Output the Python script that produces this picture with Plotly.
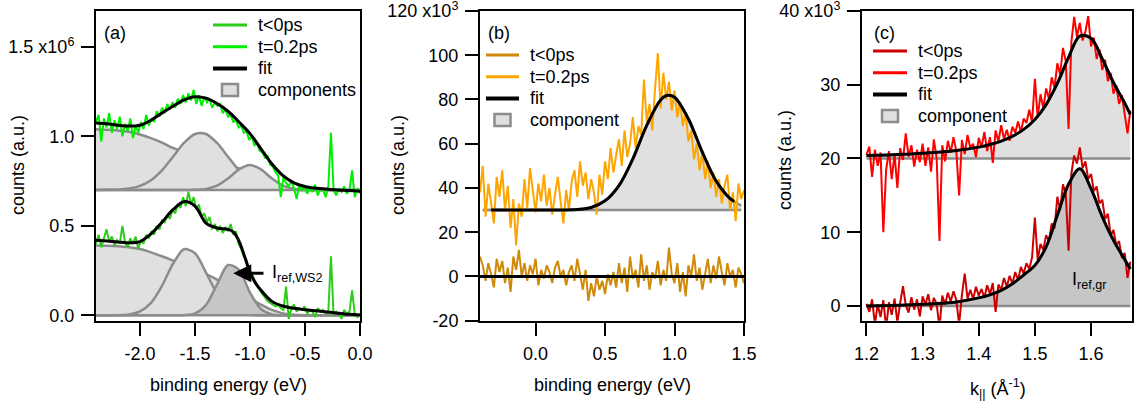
import plotly.graph_objects as go

FONT = "Liberation Sans, Arial, Helvetica, sans-serif"
W, H = 1135, 412
GREY = "#8C8C8C"
FILL_L = "#E0E0E0"
FILL_D = "#C6C6C6"

# ---------------- panel (a): binding energy (eV), counts in 1e6 ----------------
a_x0, a_dx, a_n = -2.4, 0.024, 101
a_data_x = [round(a_x0 + a_dx * i, 4) for i in range(a_n)]
a_t02 = [1.08, 1.12, 0.97, 1.10, 1.05, 1.13, 1.02, 1.09, 1.04, 1.11,
         1.00, 1.07, 1.03, 1.10, 0.99, 1.06, 1.02, 1.08, 1.04, 1.12,
         1.06, 1.10, 1.08, 1.14, 1.11, 1.16, 1.13, 1.18, 1.15, 1.19,
         1.16, 1.21, 1.18, 1.23, 1.19, 1.24, 1.20, 1.26, 1.18, 1.23,
         1.17, 1.22, 1.19, 1.21, 1.16, 1.19, 1.17, 1.18, 1.13, 1.15,
         1.11, 1.12, 1.08, 1.09, 1.05, 1.06, 1.02, 1.03, 0.98, 1.00,
         0.95, 0.96, 0.92, 0.91, 0.88, 0.89, 0.84, 0.83, 0.80, 0.78,
         0.66, 0.77, 0.74, 0.72, 0.75, 0.71, 0.65, 0.73, 0.70, 0.72,
         0.68, 0.71, 0.69, 0.73, 0.67, 0.71, 0.70, 0.66, 0.72, 1.02,
         0.70, 0.67, 0.71, 0.69, 0.72, 0.68, 0.70, 0.81, 0.66, 0.71, 0.68]
a_tneg = [0.40, 0.45, 0.38, 0.43, 0.48, 0.41, 0.44, 0.39, 0.42, 0.40,
          0.50, 0.41, 0.38, 0.43, 0.40, 0.44, 0.37, 0.42, 0.40, 0.45,
          0.43, 0.47, 0.45, 0.50, 0.48, 0.53, 0.52, 0.56, 0.54, 0.59,
          0.57, 0.62, 0.60, 0.66, 0.61, 0.69, 0.62, 0.66, 0.59, 0.62,
          0.55, 0.57, 0.52, 0.55, 0.48, 0.51, 0.47, 0.50, 0.46, 0.49,
          0.47, 0.51, 0.45, 0.47, 0.40, 0.37, 0.33, 0.31, 0.26, 0.23,
          0.20, 0.17, 0.14, 0.12, 0.10, 0.08, 0.07, 0.06, 0.05, 0.06,
          0.04, 0.03, 0.16, -0.02, 0.04, 0.06, 0.02, 0.04, 0.03, 0.05,
          0.01, 0.03, 0.02, -0.01, 0.04, 0.02, 0.03, 0.01, 0.02, 0.33,
          0.00, 0.02, 0.01, -0.02, 0.03, 0.01, 0.02, 0.14, 0.01, -0.01, 0.01]
a_comp_x = [-2.4, -2.3, -2.2, -2.1, -2.0, -1.9, -1.8, -1.7, -1.6, -1.5, -1.4, -1.3, -1.2,
            -1.1, -1.0, -0.9, -0.8, -0.7, -0.6, -0.5, -0.4, -0.3, -0.2, -0.1, 0.0]
a_up_base = 0.70
a_up_bg = [1.04, 1.037, 1.033, 1.025, 1.01, 0.99, 0.965, 0.935, 0.91, 0.89, 0.875, 0.86, 0.84,
           0.82, 0.80, 0.775, 0.745, 0.72, 0.705, 0.70, 0.70, 0.70, 0.70, 0.70, 0.70]
a_up_g1 = [0.70, 0.701, 0.702, 0.708, 0.723, 0.755, 0.810, 0.886, 0.963, 1.013, 1.013, 0.963, 0.886,
           0.810, 0.755, 0.723, 0.708, 0.702, 0.701, 0.70, 0.70, 0.70, 0.70, 0.70, 0.70]
a_up_g2 = [0.70, 0.70, 0.70, 0.70, 0.70, 0.70, 0.70, 0.70, 0.70, 0.701, 0.706, 0.724, 0.764,
           0.815, 0.84, 0.815, 0.764, 0.724, 0.706, 0.701, 0.70, 0.70, 0.70, 0.70, 0.70]
a_lo_base = 0.0
a_lo_bg = [0.39, 0.389, 0.386, 0.38, 0.37, 0.352, 0.33, 0.306, 0.28, 0.255, 0.23, 0.20, 0.165,
           0.13, 0.095, 0.06, 0.03, 0.011, 0.003, 0.0, 0.0, 0.0, 0.0, 0.0, 0.0]
a_lo_g1 = [0.0, 0.0, 0.001, 0.005, 0.022, 0.070, 0.165, 0.288, 0.369, 0.347, 0.239, 0.122, 0.045,
           0.012, 0.003, 0.0, 0.0, 0.0, 0.0, 0.0, 0.0, 0.0, 0.0, 0.0, 0.0]
a_lo_ref = [0.0, 0.0, 0.0, 0.0, 0.0, 0.0, 0.0, 0.0, 0.001, 0.011, 0.058, 0.172, 0.281,
            0.254, 0.127, 0.035, 0.005, 0.0, 0.0, 0.0, 0.0, 0.0, 0.0, 0.0, 0.0]
a_fit_up_x = a_comp_x
a_fit_up = [1.075, 1.07, 1.062, 1.057, 1.062, 1.09, 1.13, 1.168, 1.203, 1.221, 1.213, 1.183, 1.14,
            1.08, 1.015, 0.93, 0.845, 0.78, 0.74, 0.72, 0.71, 0.705, 0.70, 0.697, 0.693]
a_fit_lo_x = [-2.4, -2.3, -2.2, -2.1, -2.0, -1.9, -1.8, -1.7, -1.6, -1.5, -1.4, -1.3, -1.2, -1.15,
              -1.1, -1.05, -1.0, -0.95, -0.9, -0.8, -0.7, -0.6, -0.5, -0.4, -0.3, -0.2, -0.1, 0.0]
a_fit_lo = [0.42, 0.415, 0.41, 0.405, 0.412, 0.455, 0.52, 0.59, 0.635, 0.61, 0.515, 0.488, 0.48, 0.465,
            0.415, 0.33, 0.24, 0.18, 0.14, 0.078, 0.052, 0.039, 0.031, 0.025, 0.019, 0.012, 0.006, 0.002]
a_xticks = [-2.0, -1.5, -1.0, -0.5, 0.0]
a_xtext = ["-2.0", "-1.5", "-1.0", "-0.5", "0.0"]
a_yticks = [0.0, 0.5, 1.0, 1.5]
a_ytext = ["0.0", "0.5", "1.0", "1.5 x10<sup>6</sup>"]

# ---------------- panel (b): binding energy (eV), counts in 1e3 ----------------
b_x0, b_dx, b_n = -0.40, 0.02, 96
b_data_x = [round(b_x0 + b_dx * i, 4) for i in range(b_n)]
b_t02 = [38, 50, 27, 42, 33, 24, 45, 36, 48, 30, 41, 22, 35, 14, 33, 27, 44, 31, 49, 38,
         29, 42, 34, 46, 32, 40, 28, 37, 45, 34, 24, 39, 30, 43, 48, 36, 52, 41, 47, 35,
         44, 38, 28, 46, 37, 52, 44, 58, 47, 55, 62, 50, 66, 54, 60, 72, 58, 68, 64, 89,
         70, 78, 66, 85, 101, 76, 92, 80, 88, 75, 84, 72, 79, 68, 74, 61, 66, 53, 60, 48,
         56, 44, 52, 40, 47, 36, 44, 33, 41, 46, 30, 38, 25, 42, 35, 39]
b_tneg = [9, 5, -2, 6, 1, -5, 8, 2, 7, -3, 4, -7, 9, 3, 12, 0, 6, -2, 5, 1,
          8, -4, 3, -1, 5, 2, -3, 4, 7, 0, 3, -4, 2, 5, -2, 8, 1, -6, 3, -11,
          -3, -9, 0, -6, -2, -8, 1, -4, 2, -5, 6, -3, 4, -7, 9, -1, 3, -5, 10, -2,
          5, -6, 2, -1, 7, -4, 3, -2, 13, 1, -3, 6, -7, 2, -9, 5, 0, 10, -2, 4,
          -6, 1, 8, -3, 5, -1, 9, 2, -4, 6, 0, 3, -5, 4, 1, -3]
b_base = 30.0
b_comp_x = [-0.38, 0.0, 0.2, 0.3, 0.4, 0.5, 0.6, 0.7, 0.8, 0.9, 0.95, 1.0, 1.1, 1.2, 1.3, 1.4, 1.48]
b_comp = [30.0, 30.0, 30.05, 30.3, 31.2, 34.2, 41.1, 53.2, 68.3, 79.8, 81.9, 81.0, 71.2, 56.2, 43.1, 35.2, 32.0]
b_fit_x = [-0.32, 0.0, 0.2, 0.3, 0.4, 0.5, 0.6, 0.7, 0.8, 0.9, 0.95, 1.0, 1.1, 1.2, 1.3, 1.4, 1.43]
b_fit = [30.0, 30.0, 30.05, 30.3, 31.2, 34.2, 41.1, 53.2, 68.3, 79.8, 81.9, 81.0, 71.2, 56.2, 43.1, 35.2, 33.9]
b_fit0_x = [-0.4, 1.5]
b_fit0 = [0.0, 0.0]
b_xticks = [0.0, 0.5, 1.0, 1.5]
b_xtext = ["0.0", "0.5", "1.0", "1.5"]
b_yticks = [-20, 0, 20, 40, 60, 80, 100, 120]
b_ytext = ["-20", "0", "20", "40", "60", "80", "100", "120 x10<sup>3</sup>"]

# ---------------- panel (c): k_parallel (1/A), counts in 1e3 ----------------
c_x0, c_dx, c_n = 1.200, 0.005, 95
c_data_x = [round(c_x0 + c_dx * i, 4) for i in range(c_n)]
c_t02 = [20.5, 21.6, 17.5, 21.2, 19.0, 20.8, 10.0, 18.5, 21.0, 17.2,
         20.6, 16.0, 21.4, 19.8, 23.4, 20.2, 21.8, 18.9, 21.2, 19.5,
         22.0, 19.0, 21.5, 18.2, 22.6, 20.0, 8.8, 21.8, 19.6, 22.4,
         20.8, 22.9, 21.0, 15.0, 22.5, 20.6, 23.2, 21.4, 22.0, 20.2,
         22.8, 21.5, 23.6, 21.0, 22.9, 19.4, 23.8, 22.3, 24.5, 22.6,
         23.9, 22.4, 24.3, 23.5, 25.0, 23.6, 25.4, 24.8, 26.6, 24.9,
         30.8, 25.5, 28.7, 26.8, 29.5, 28.1, 31.0, 29.6, 32.9, 31.4,
         35.0, 33.2, 24.0, 35.8, 39.2, 36.5, 38.4, 36.0, 37.2, 39.3,
         35.2, 36.4, 33.5, 34.8, 32.0, 33.4, 30.5, 31.6, 28.8, 29.9,
         27.4, 28.6, 26.0, 23.4, 26.5]
c_tneg = [0.3, -0.8, 0.9, -2.5, 0.2, -1.5, 0.8, -3.0, 0.5, -1.2,
          1.0, -2.2, 0.4, 2.7, 0.1, -0.9, 1.2, -0.5, 0.9, -1.4,
          1.3, 0.2, 1.6, -0.6, 1.1, 0.3, -3.0, 1.4, 0.2, 1.8,
          0.6, 2.0, 0.8, -2.5, 1.5, 4.4, 1.0, 2.2, 0.9, 2.6,
          1.4, 2.3, 1.1, 2.8, 1.6, 3.1, -0.8, 2.9, 2.2, 3.8,
          2.6, 4.1, 3.0, 4.6, 3.5, 5.3, 4.4, 5.8, 5.0, 6.6,
          12.0, 6.2, 8.4, 7.6, 9.6, 8.8, 11.2, 10.5, 14.8, 13.0,
          16.5, 15.2, 7.5, 18.0, 20.4, 19.3, 21.5, 18.7, 19.6, 17.2,
          17.9, 15.6, 16.2, 13.9, 14.4, 11.8, 12.5, 9.6, 10.3, 8.2,
          8.8, 6.5, 7.2, 3.8, 6.0]
c_up_base = 20.0
c_lo_base = 0.0
c_fit_x = [1.20, 1.24, 1.28, 1.32, 1.36, 1.40, 1.42, 1.44, 1.46, 1.48, 1.50, 1.52, 1.54, 1.56,
           1.58, 1.60, 1.62, 1.64, 1.66, 1.67]
c_up_fit = [20.39, 20.48, 20.61, 20.80, 21.08, 21.54, 21.89, 22.36, 23.01, 23.94, 25.30, 27.31,
            30.18, 33.71, 36.6, 36.3, 33.5, 30.3, 27.5, 26.0]
c_lo_fit = [0.0, 0.05, 0.15, 0.3, 0.55, 1.1, 1.5, 2.1, 3.0, 4.2, 5.5, 8.0, 12.3, 16.5,
            18.6, 15.9, 12.1, 8.9, 6.3, 5.0]
c_xticks = [1.2, 1.3, 1.4, 1.5, 1.6]
c_xtext = ["1.2", "1.3", "1.4", "1.5", "1.6"]
c_yticks = [0, 10, 20, 30, 40]
c_ytext = ["0", "10", "20", "30", "40 x10<sup>3</sup>"]

# legend entries per panel
a_leg = [("t&lt;0ps", "line", "#2ECC1A"), ("t=0.2ps", "line", "#00EE00"),
         ("fit", "line", "black"), ("components", "box", FILL_L)]
b_leg = [("t&lt;0ps", "line", "#D08A0A"), ("t=0.2ps", "line", "#FFA500"),
         ("fit", "line", "black"), ("component", "box", FILL_L)]
c_leg = [("t&lt;0ps", "line", "#CC0000"), ("t=0.2ps", "line", "#FF0000"),
         ("fit", "line", "black"), ("component", "box", FILL_L)]

fig = go.Figure()


def add_comp(xs, ys, base, fill, xa, ya):
    fig.add_trace(go.Scatter(x=[xs[0], xs[-1]], y=[base, base], mode="lines",
                             line=dict(width=0, color=GREY), showlegend=False,
                             hoverinfo="skip", xaxis=xa, yaxis=ya))
    fig.add_trace(go.Scatter(x=xs, y=ys, mode="lines", fill="tonexty", fillcolor=fill,
                             line=dict(color=GREY, width=2.5, shape="spline", smoothing=0.8),
                             showlegend=False, xaxis=xa, yaxis=ya))


def add_base(xs, base, xa, ya):
    fig.add_trace(go.Scatter(x=[xs[0], xs[-1]], y=[base, base], mode="lines",
                             line=dict(width=2.5, color=GREY), showlegend=False,
                             xaxis=xa, yaxis=ya))


def add_line(xs, ys, color, width, xa, ya, spline=False):
    fig.add_trace(go.Scatter(x=xs, y=ys, mode="lines",
                             line=dict(color=color, width=width,
                                       shape="spline" if spline else "linear"),
                             showlegend=False, xaxis=xa, yaxis=ya))


# ---- panel (a)
add_comp(a_comp_x, a_up_bg, a_up_base, FILL_L, "x", "y")
add_comp(a_comp_x, a_up_g1, a_up_base, FILL_L, "x", "y")
add_comp(a_comp_x, a_up_g2, a_up_base, FILL_L, "x", "y")
add_comp(a_comp_x, a_lo_bg, a_lo_base, FILL_L, "x", "y")
add_comp(a_comp_x, a_lo_g1, a_lo_base, FILL_L, "x", "y")
add_comp(a_comp_x, a_lo_ref, a_lo_base, FILL_D, "x", "y")
add_base(a_comp_x, a_up_base, "x", "y")
add_base(a_comp_x, a_lo_base, "x", "y")
add_line(a_data_x, a_tneg, a_leg[0][2], 2, "x", "y")
add_line(a_data_x, a_t02, a_leg[1][2], 2, "x", "y")
add_line(a_fit_up_x, a_fit_up, "black", 3, "x", "y", spline=True)
add_line(a_fit_lo_x, a_fit_lo, "black", 3, "x", "y", spline=True)

# ---- panel (b)
add_comp(b_comp_x, b_comp, b_base, FILL_L, "x2", "y2")
add_base(b_comp_x, b_base, "x2", "y2")
add_line(b_data_x, b_tneg, b_leg[0][2], 2, "x2", "y2")
add_line(b_data_x, b_t02, b_leg[1][2], 2, "x2", "y2")
add_line(b_fit_x, b_fit, "black", 3, "x2", "y2", spline=True)
add_line(b_fit0_x, b_fit0, "black", 3, "x2", "y2")

# ---- panel (c)
add_comp(c_fit_x, c_up_fit, c_up_base, FILL_L, "x3", "y3")
add_comp(c_fit_x, c_lo_fit, c_lo_base, FILL_D, "x3", "y3")
add_base(c_fit_x, c_up_base, "x3", "y3")
add_base(c_fit_x, c_lo_base, "x3", "y3")
add_line(c_data_x, c_tneg, c_leg[0][2], 2, "x3", "y3")
add_line(c_data_x, c_t02, c_leg[1][2], 2, "x3", "y3")
add_line(c_fit_x, c_up_fit, "black", 3, "x3", "y3", spline=True)
add_line(c_fit_x, c_lo_fit, "black", 3, "x3", "y3", spline=True)


def px_x(p):
    return p / W


def px_y(p):
    return 1 - p / H


axis_common = dict(showline=True, linewidth=2, linecolor="black", mirror=True,
                   ticks="outside", ticklen=13, tickwidth=2, tickcolor="black",
                   showgrid=False, zeroline=False, autorange=False, automargin=False,
                   ticklabeloverflow="allow", ticklabelstandoff=3,
                   tickfont=dict(size=18, color="black", family=FONT), tickmode="array")

ydom = [px_y(320.7), px_y(11)]
fig.update_layout(
    xaxis=dict(domain=[px_x(96), px_x(360)], range=[-2.4, 0.0], anchor="y",
               tickvals=a_xticks, ticktext=a_xtext, **axis_common),
    yaxis=dict(domain=ydom, range=[-0.03, 1.7], anchor="x",
               tickvals=a_yticks, ticktext=a_ytext, **axis_common),
    xaxis2=dict(domain=[px_x(480), px_x(744)], range=[-0.4, 1.5], anchor="y2",
                tickvals=b_xticks, ticktext=b_xtext, **axis_common),
    yaxis2=dict(domain=ydom, range=[-20, 120], anchor="x2",
                tickvals=b_yticks, ticktext=b_ytext, **axis_common),
    xaxis3=dict(domain=[px_x(862), px_x(1132)], range=[1.192, 1.673], anchor="y3",
                tickvals=c_xticks, ticktext=c_xtext, **axis_common),
    yaxis3=dict(domain=ydom, range=[-2, 40], anchor="x3",
                tickvals=c_yticks, ticktext=c_ytext, **axis_common),
)

ann = []
shapes = []
# hand-built legends: (entries, key left px, key right px, text px, first row px)
for entries, k0, k1, t0, r0 in [(a_leg, 213, 247, 256, 25), (b_leg, 486, 519, 528, 55),
                                (c_leg, 873, 907, 916, 51)]:
    step = 21.7
    for i, (label, kind, col) in enumerate(entries):
        yc = r0 + i * step
        if kind == "line":
            shapes.append(dict(type="line", xref="paper", yref="paper",
                               x0=px_x(k0), x1=px_x(k1), y0=px_y(yc), y1=px_y(yc),
                               line=dict(color=col, width=4 if col == "black" else 3)))
        else:
            cx = (k0 + k1) / 2
            shapes.append(dict(type="rect", xref="paper", yref="paper",
                               x0=px_x(cx - 8), x1=px_x(cx + 8), y0=px_y(yc + 6), y1=px_y(yc - 6),
                               fillcolor=col, line=dict(color=GREY, width=2.5)))
        ann.append(dict(text=label, x=px_x(t0), y=px_y(yc), xref="paper", yref="paper",
                        showarrow=False, xanchor="left", yanchor="middle", font=dict(size=18)))

for txt, xp in [("(a)", 115), ("(b)", 499), ("(c)", 884)]:
    ann.append(dict(text=txt, x=px_x(xp), y=px_y(33), xref="paper", yref="paper",
                    showarrow=False, xanchor="center", yanchor="middle", font=dict(size=18)))
for xp, yp in [(18, 165), (398, 165), (785, 160)]:
    ann.append(dict(text="counts (a.u.)", x=px_x(xp), y=px_y(yp), xref="paper", yref="paper",
                    showarrow=False, textangle=-90, xanchor="center", yanchor="middle",
                    font=dict(size=18)))
for txt, xp, yp in [("binding energy (eV)", 228, 385), ("binding energy (eV)", 612, 385),
                    ("k<sub>||</sub> (Å<sup>-1</sup>)", 998, 388)]:
    ann.append(dict(text=txt, x=px_x(xp), y=px_y(yp), xref="paper", yref="paper",
                    showarrow=False, xanchor="center", yanchor="middle", font=dict(size=18)))
# arrow and label for I_ref,WS2
ann.append(dict(x=-1.152, y=0.235, ax=-0.864, ay=0.235, xref="x", yref="y", axref="x", ayref="y",
                text="", showarrow=True, arrowhead=2, arrowsize=1.2, arrowwidth=3, arrowcolor="black"))
ann.append(dict(text="I<sub>ref,WS2</sub>", x=-0.82, y=0.235, xref="x", yref="y", showarrow=False,
                xanchor="left", yanchor="middle", font=dict(size=18)))
ann.append(dict(text="I<sub>ref,gr</sub>", x=1.562, y=3.5, xref="x3", yref="y3", showarrow=False,
                xanchor="left", yanchor="middle", font=dict(size=18)))

fig.update_layout(
    width=W, height=H, margin=dict(l=0, r=0, t=0, b=0),
    paper_bgcolor="white", plot_bgcolor="white", showlegend=False,
    font=dict(family=FONT, size=18, color="black"),
    annotations=ann, shapes=shapes, hovermode=False,
)

fig.write_html("out.html", config={"displayModeBar": False},
               post_script="document.body.style.margin='0px';")
